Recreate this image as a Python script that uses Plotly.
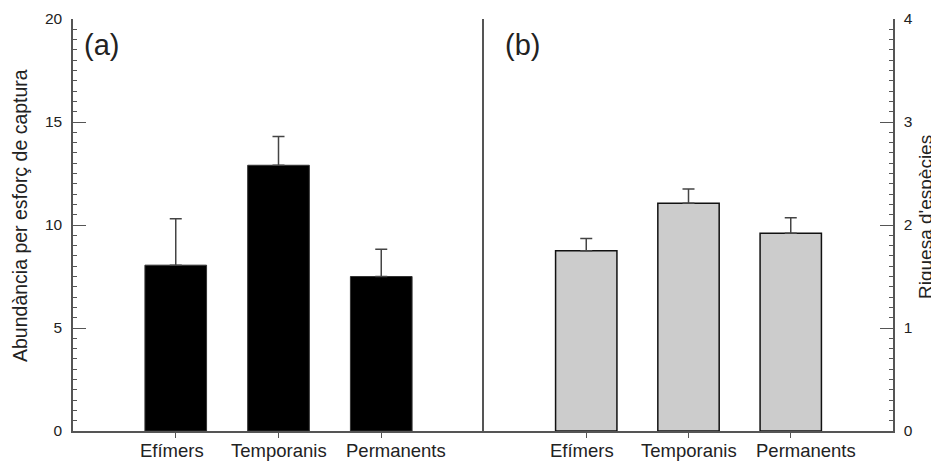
import plotly.graph_objects as go

categories = ["Efímers", "Temporanis", "Permanents"]
abundance = [8.05, 12.9, 7.5]
abundance_err = [2.25, 1.4, 1.32]
richness = [1.75, 2.21, 1.92]
richness_err = [0.12, 0.14, 0.15]

# style: horizontal nudges of the category labels (px), as in the reference
label_shift = [-4, 0, 15]

FONT = "Liberation Sans, Arial, sans-serif"
TXT = "#222222"
LINE = "#555555"

fig = go.Figure()
fig.add_trace(go.Bar(
    x=categories, y=abundance, xaxis="x", yaxis="y", width=0.6,
    marker=dict(color="black", line=dict(color="#333333", width=1)),
    error_y=dict(type="data", symmetric=False, array=abundance_err,
                 arrayminus=[0] * len(abundance), color="#444444",
                 thickness=1.5, width=6),
    showlegend=False))
fig.add_trace(go.Bar(
    x=categories, y=richness, xaxis="x2", yaxis="y2", width=0.6,
    marker=dict(color="#cccccc", line=dict(color="#111111", width=1.5)),
    error_y=dict(type="data", symmetric=False, array=richness_err,
                 arrayminus=[0] * len(richness), color="#444444",
                 thickness=1.5, width=6),
    showlegend=False))

split = 411 / 820
xcommon = dict(range=[-1, 3], showline=True, linecolor=LINE, linewidth=1.5,
               ticks="outside", ticklen=5, tickcolor=LINE, tickwidth=1.2,
               showgrid=False, zeroline=False, automargin=False,
               showticklabels=False)
ycommon = dict(showline=True, linecolor=LINE, linewidth=1.5,
               ticks="inside", ticklen=13, tickcolor=LINE, tickwidth=1.2,
               showgrid=False, zeroline=False, ticklabelstandoff=6, automargin=False,
               tickfont=dict(family=FONT, size=15.5, color=TXT))

annotations = []
for xr, yr in (("x", "y"), ("x2", "y2")):
    for cat, sh in zip(categories, label_shift):
        annotations.append(dict(
            text=cat, x=cat, xref=xr, y=0, yref=yr, xshift=sh, yshift=-19,
            xanchor="center", yanchor="middle", showarrow=False,
            font=dict(family=FONT, size=18.5, color=TXT)))

annotations += [
    dict(text="Abundància per esforç de captura", xref="paper", yref="paper",
         x=(20 - 73) / 820, y=(431 - 216) / 412, textangle=-90, showarrow=False,
         xanchor="center", yanchor="middle",
         font=dict(family=FONT, size=19.5, color=TXT)),
    dict(text="Riquesa d'espècies", xref="paper", yref="paper",
         x=(925 - 73) / 820, y=(431 - 217) / 412, textangle=-90, showarrow=False,
         xanchor="center", yanchor="middle",
         font=dict(family=FONT, size=19, color=TXT)),
    dict(text="(a)", xref="paper", yref="paper", x=(82 - 73) / 820, y=(431 - 45) / 412,
         xanchor="left", yanchor="middle", showarrow=False,
         font=dict(family=FONT, size=29, color=TXT)),
    dict(text="(b)", xref="paper", yref="paper", x=(503 - 73) / 820, y=(431 - 45) / 412,
         xanchor="left", yanchor="middle", showarrow=False,
         font=dict(family=FONT, size=29, color=TXT)),
]

fig.update_layout(
    width=931, height=454,
    margin=dict(l=65, r=46, t=11, b=31, autoexpand=False),
    paper_bgcolor="white", plot_bgcolor="white",
    bargap=0.4,
    xaxis=dict(domain=[0, split], anchor="y", **xcommon),
    xaxis2=dict(domain=[split, 1], anchor="y2", **xcommon),
    yaxis=dict(domain=[0, 1], anchor="x", range=[0, 20], tickvals=[0, 5, 10, 15, 20],
               minor=dict(dtick=0.5, ticks="inside", ticklen=4, tickcolor=LINE, tickwidth=1),
               **ycommon),
    yaxis2=dict(domain=[0, 1], anchor="x2", side="right", mirror=True,
                range=[0, 4], tickvals=[0, 1, 2, 3, 4],
                minor=dict(dtick=0.1, ticks="inside", ticklen=4, tickcolor=LINE, tickwidth=1),
                **ycommon),
    annotations=annotations,
)

fig.write_html("out.html")
